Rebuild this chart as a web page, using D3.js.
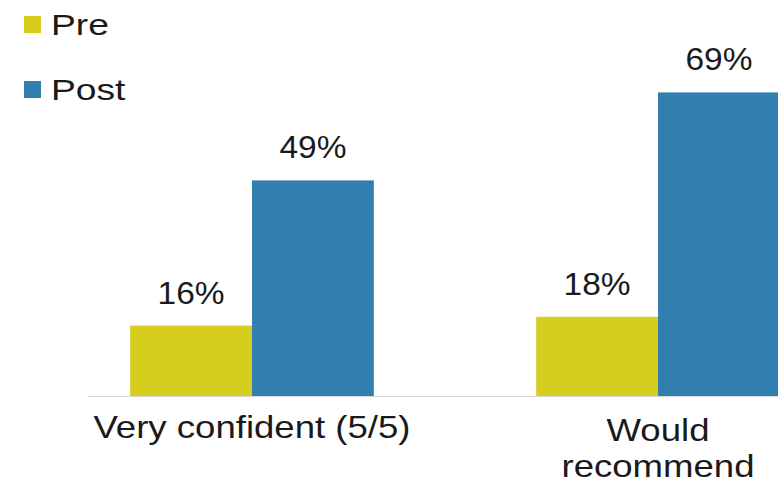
<!DOCTYPE html>
<html>
<head>
<meta charset="utf-8">
<script src="https://cdn.jsdelivr.net/npm/d3@7"></script>
<style>
  body { margin: 0; background: #fff; }
  svg { display: block; font-family: "Liberation Sans", Arial, sans-serif; }
  .valueLabel { font-size: 31px; fill: #1a1a1a; text-anchor: middle; }
  .catLabel { font-size: 31px; fill: #1a1a1a; text-anchor: middle; }
  .legendText { font-size: 30px; fill: #1a1a1a; }
</style>
</head>
<body>
<div id="chart"></div>
<script>
var svgWidth = 778;
var svgHeight = 485;

var categories = ["Very confident (5/5)", "Would\nrecommend"];
var series = ["Pre", "Post"];
var preValues = [16, 18];
var postValues = [49, 69];
var seriesColors = ["#d6cd1e", "#307fae"];

// the source text is drawn a bit wide, so stretch it sideways
var valueStretch = 1.08;
var catStretch = 1.18;
var legendStretch = 1.24;

var svg = d3.select("#chart")
  .append("svg")
  .attr("width", svgWidth)
  .attr("height", svgHeight);

var baseY = 396;

var x0 = d3.scaleBand()
  .domain(categories)
  .range([49, 861])
  .paddingInner(0.4)
  .paddingOuter(0.2);

var x1 = d3.scaleBand()
  .domain(series)
  .range([0, x0.bandwidth()])
  .padding(0);

var y = d3.scaleLinear()
  .domain([0, 80])
  .range([baseY, 44]);

var color = d3.scaleOrdinal()
  .domain(series)
  .range(seriesColors);

var rows = categories.map(function(c, i) {
  return { cat: c, vals: [
    { key: "Pre", value: preValues[i] },
    { key: "Post", value: postValues[i] }
  ]};
});

// baseline
svg.append("line")
  .attr("x1", 88)
  .attr("x2", svgWidth)
  .attr("y1", baseY + 0.5)
  .attr("y2", baseY + 0.5)
  .attr("stroke", "#d9d9d9")
  .attr("stroke-width", 1);

var groups = svg.selectAll("g.group")
  .data(rows)
  .enter()
  .append("g")
  .attr("class", "group")
  .attr("transform", d => `translate(${x0(d.cat)},0)`);

groups.selectAll("rect")
  .data(d => d.vals)
  .enter()
  .append("rect")
  .attr("x", d => x1(d.key))
  .attr("y", d => y(d.value))
  .attr("width", x1.bandwidth())
  .attr("height", d => baseY - y(d.value))
  .attr("fill", d => color(d.key));

groups.selectAll("text.valueLabel")
  .data(d => d.vals)
  .enter()
  .append("text")
  .attr("class", "valueLabel")
  .attr("transform", d => `translate(${x1(d.key) + x1.bandwidth() / 2},${y(d.value) - 22}) scale(${valueStretch},1)`)
  .text(d => d.value + "%");

// category labels
var cat = svg.selectAll("text.catLabel")
  .data(categories)
  .enter()
  .append("text")
  .attr("class", "catLabel")
  .attr("transform", function(d) {
    var cx = x0(d) + x0.bandwidth() / 2;
    var cy = d.indexOf("\n") >= 0 ? 441 : 438;
    return `translate(${cx},${cy}) scale(${catStretch},1)`;
  });
cat.each(function(d) {
  var lines = d.split("\n");
  var t = d3.select(this);
  lines.forEach(function(line, i) {
    t.append("tspan")
      .attr("x", 0)
      .attr("dy", i === 0 ? 0 : 36)
      .text(line);
  });
});

// legend
var legend = svg.selectAll("g.legend")
  .data(series)
  .enter()
  .append("g")
  .attr("class", "legend")
  .attr("transform", (d, i) => `translate(24, ${16 + i * 65})`);
legend.append("rect")
  .attr("width", 17)
  .attr("height", 17)
  .attr("fill", d => color(d));
legend.append("text")
  .attr("class", "legendText")
  .attr("transform", `translate(27,19) scale(${legendStretch},1)`)
  .text(d => d);
</script>
</body>
</html>
